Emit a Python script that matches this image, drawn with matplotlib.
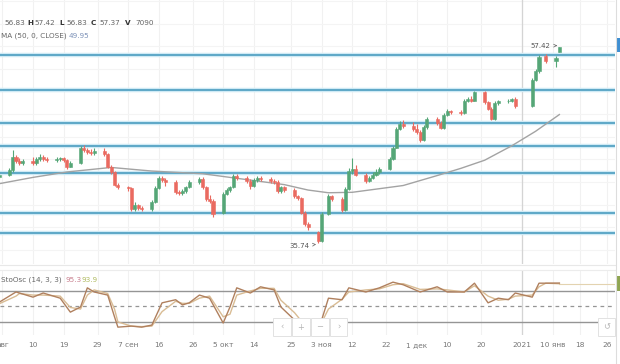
import matplotlib
matplotlib.use("Agg")
import matplotlib.pyplot as plt
import matplotlib.dates as mdates
import numpy as np
import pandas as pd
from matplotlib.patches import Rectangle
from matplotlib.lines import Line2D

plt.rcParams['font.family'] = ['DejaVu Sans']

# ---------------- data ----------------
holidays = ['2020-11-04', '2020-12-31', '2021-01-01', '2021-01-07']
start_date, end_date = '2020-07-31', '2021-01-12'

opens = [43.0,
         43.3, 43.8, 45.2, 44.8, 44.6,
         44.8, 44.6, 45.0, 45.3, 45.0,
         44.9, 45.0, 45.1, 44.9, 44.2,
         44.6, 46.3, 46.0, 45.8, 45.7,
         45.9, 45.6, 44.2, 43.6, 42.2,
         41.9, 41.8, 39.5, 39.9, 39.6,
         39.5, 40.3, 41.8, 42.9, 42.7,
         42.5, 41.4, 41.3, 41.5, 41.9,
         42.5, 42.8, 41.9, 40.6, 40.4,
         39.1, 41.2, 41.6, 41.9, 43.2,
         42.9, 42.6, 42.0, 42.7, 42.9,
         42.8, 42.6, 42.5, 41.5, 41.9,
         41.6, 40.9, 40.7, 39.1, 37.8,
         37.0, 36.0, 39.0, 40.9,
         40.6, 39.4, 41.7, 43.7, 43.9,
         43.3, 42.6, 42.9, 43.3, 43.6,
         43.9, 45.0, 46.3, 48.4, 48.9,
         48.7, 48.3, 48.0, 47.1, 48.6,
         49.5, 49.0, 48.5, 49.9, 50.3,
         50.2, 50.1, 51.5, 51.7, 51.5,
         52.4, 51.3, 50.6, 49.5, 51.2,
         51.4, 51.5, 51.7,
         50.9, 53.8, 54.8, 56.4,
         55.9, 56.83]
highs = [43.6,
         44.0, 46.0, 45.5, 45.1, 45.0,
         45.2, 45.3, 45.6, 45.5, 45.2,
         45.2, 45.3, 45.3, 45.0, 44.8,
         46.5, 46.6, 46.2, 46.1, 46.2,
         46.2, 45.7, 44.4, 43.7, 42.4,
         42.1, 41.9, 40.3, 40.1, 39.8,
         40.5, 42.0, 43.2, 43.1, 42.9,
         42.7, 41.6, 41.7, 42.1, 42.7,
         43.0, 43.0, 42.0, 41.0, 40.6,
         41.4, 41.8, 42.1, 43.4, 43.4,
         43.1, 42.8, 42.9, 43.1, 43.1,
         43.0, 42.8, 42.7, 42.1, 42.1,
         41.8, 41.1, 40.8, 39.3, 38.1,
         37.1, 39.2, 41.2, 41.1,
         40.8, 41.9, 44.0, 45.1, 44.4,
         43.5, 43.2, 43.6, 43.9, 44.2,
         45.2, 46.5, 48.6, 49.2, 49.3,
         49.1, 48.9, 48.2, 48.8, 49.7,
         49.7, 49.2, 50.1, 50.6, 50.5,
         50.4, 51.7, 51.9, 52.0, 52.6,
         52.5, 51.5, 50.8, 51.4, 51.6,
         51.7, 51.8, 51.9,
         54.0, 55.0, 56.5, 56.7,
         56.4, 57.42]
lows = [42.8,
        43.1, 43.6, 44.6, 44.4, 44.4,
        44.4, 44.4, 44.8, 44.8, 44.7,
        44.7, 44.8, 44.7, 43.9, 44.1,
        44.5, 45.8, 45.6, 45.5, 45.5,
        45.4, 44.0, 43.4, 42.0, 41.7,
        41.5, 39.3, 39.3, 39.4, 39.3,
        39.3, 40.2, 41.7, 42.5, 42.1,
        41.2, 41.1, 41.1, 41.3, 41.8,
        42.3, 41.7, 40.4, 40.2, 38.6,
        39.0, 41.0, 41.4, 41.8, 42.7,
        42.4, 41.7, 41.9, 42.5, 42.6,
        42.4, 42.3, 41.3, 41.3, 41.4,
        40.7, 40.5, 38.9, 37.6, 37.2,
        35.74, 35.9, 38.8, 40.4,
        39.2, 39.3, 41.6, 43.4, 43.1,
        42.4, 42.5, 42.8, 43.1, 43.4,
        43.8, 44.9, 46.2, 48.2, 48.5,
        48.1, 47.8, 46.9, 47.0, 48.4,
        48.8, 48.3, 48.4, 49.8, 50.0,
        49.9, 50.0, 51.3, 51.3, 51.4,
        51.1, 50.4, 49.3, 49.4, 51.0,
        51.2, 51.3, 50.7,
        50.8, 53.7, 54.6, 55.7,
        55.2, 56.83]
closes = [43.3,
          43.8, 45.2, 44.8, 44.6, 44.8,
          44.6, 45.0, 45.3, 45.0, 44.9,
          45.0, 45.1, 44.9, 44.2, 44.6,
          46.3, 46.0, 45.8, 45.7, 45.9,
          45.6, 44.2, 43.6, 42.2, 41.9,
          41.8, 39.5, 39.9, 39.6, 39.5,
          40.3, 41.8, 42.9, 42.7, 42.5,
          41.4, 41.3, 41.5, 41.9, 42.5,
          42.8, 41.9, 40.6, 40.4, 38.9,
          41.2, 41.6, 41.9, 43.2, 42.9,
          42.6, 42.0, 42.7, 42.9, 42.8,
          42.6, 42.5, 41.5, 41.9, 41.6,
          40.9, 40.7, 39.1, 37.8, 37.5,
          36.0, 39.0, 40.9, 40.6,
          39.4, 41.7, 43.7, 43.9, 43.3,
          42.6, 42.9, 43.3, 43.6, 43.9,
          45.0, 46.3, 48.4, 48.9, 48.7,
          48.3, 48.0, 47.1, 48.6, 49.5,
          49.0, 48.5, 49.9, 50.3, 50.2,
          50.1, 51.5, 51.7, 51.5, 52.4,
          51.3, 50.6, 49.5, 51.2, 51.4,
          51.5, 51.7, 50.9,
          53.8, 54.8, 56.3, 55.9,
          56.2, 57.37]

ma_dates = ['2020-07-31', '2020-08-10', '2020-08-20', '2020-09-02', '2020-09-14',
            '2020-09-29', '2020-10-09', '2020-10-23', '2020-10-30', '2020-11-05',
            '2020-11-12', '2020-11-27', '2020-12-07', '2020-12-14', '2020-12-21',
            '2020-12-29', '2021-01-05', '2021-01-12']
ma_values = [42.3, 43.0, 43.6, 44.1, 43.7,
             43.4, 42.9, 42.2, 41.6, 41.3,
             41.35, 42.1, 43.2, 44.0, 44.9,
             46.5, 48.1, 49.95]

sr_levels = [56.54, 52.66, 49.07, 46.47, 43.48, 39.09, 36.88]

osc_dates = ['2020-07-31', '2020-08-05', '2020-08-06', '2020-08-10', '2020-08-13',
             '2020-08-18', '2020-08-21', '2020-08-24', '2020-08-26', '2020-08-28',
             '2020-09-01', '2020-09-03', '2020-09-04', '2020-09-08', '2020-09-11',
             '2020-09-14', '2020-09-17', '2020-09-21', '2020-09-23', '2020-09-25',
             '2020-09-28', '2020-10-01', '2020-10-05', '2020-10-07', '2020-10-09',
             '2020-10-13', '2020-10-16', '2020-10-20', '2020-10-22', '2020-10-26',
             '2020-10-29', '2020-11-02', '2020-11-05', '2020-11-09', '2020-11-11',
             '2020-11-16', '2020-11-20', '2020-11-24', '2020-11-27', '2020-12-02',
             '2020-12-07', '2020-12-10', '2020-12-15', '2020-12-18', '2020-12-22',
             '2020-12-25', '2020-12-28', '2020-12-30', '2021-01-04', '2021-01-06',
             '2021-01-08', '2021-01-12']
stoch_k = [58, 78, 76, 68, 76,
           66, 39, 49, 86, 78,
           72, 30, 10, 12, 10,
           14, 57, 63, 53, 57,
           72, 66, 18, 49, 86,
           76, 88, 82, 49, 24,
           8, 3, 66, 63, 86,
           78, 86, 97, 92, 78,
           88, 78, 78, 95, 57,
           66, 63, 76, 68, 95,
           95, 95.3]
stoch_d = [55, 70, 75, 72, 72,
           70, 48, 45, 72, 82,
           75, 45, 20, 12, 11,
           12, 40, 60, 56, 56,
           66, 70, 30, 35, 72,
           80, 85, 85, 62, 38,
           14, 6, 45, 64, 78,
           82, 84, 92, 94, 83,
           84, 82, 78, 90, 70,
           62, 64, 70, 72, 88,
           95, 93.9]

tick_dates = ['2020-08-01', '2020-08-10', '2020-08-19', '2020-08-29', '2020-09-07',
              '2020-09-16', '2020-09-26', '2020-10-05', '2020-10-14', '2020-10-25',
              '2020-11-03', '2020-11-12', '2020-11-22', '2020-12-01', '2020-12-10',
              '2020-12-20', '2021-01-01', '2021-01-10', '2021-01-18', '2021-01-26']
tick_labels = ['авг', '10', '19', '29', '7 сен', '16', '26', '5 окт', '14', '25',
               '3 ноя', '12', '22', '1 дек', '10', '20', '2021', '10 янв', '18', '26']

# ---------------- layout ----------------
W, H = 620, 364
fig = plt.figure(figsize=(W / 100, H / 100), dpi=100)
fig.patch.set_facecolor('white')

def fx(px):
    return px / W

def fy(py):
    return 1 - py / H

ax = fig.add_axes([0, fy(264), fx(615), 264 / H])
osc = fig.add_axes([0, fy(335), fx(615), 65 / H])

dates = pd.bdate_range(start_date, end_date, freq='C', holidays=holidays)
xd = mdates.date2num(dates)
o = np.array(opens); h = np.array(highs); l = np.array(lows); c = np.array(closes)

ref = mdates.date2num(pd.Timestamp('2020-08-10'))
ppd = 3.396
xlim = (ref - 33 / ppd, ref + 582 / ppd)

up_col, dn_col = '#55a677', '#ea6a60'
cols = np.where(c >= o, up_col, dn_col)

tx = mdates.date2num(pd.to_datetime(tick_dates))
for a in (ax, osc):
    for t in tx:
        a.axvline(t, color='#f1f1f1', lw=0.8, zorder=0)
    a.axvline(mdates.date2num(pd.Timestamp('2021-01-01')), color='#d4d4d4', lw=0.9, zorder=1)

for p in np.arange(35, 62.6, 2.5):
    ax.axhline(p, color='#f4f4f4', lw=0.8, zorder=0)

# support / resistance lines
for lv in sr_levels:
    ax.axhline(lv, color='#cfeaf5', lw=3.2, zorder=1)
    ax.axhline(lv, color='#4a9cc0', lw=1.2, zorder=2)

# MA
ax.plot(mdates.date2num(pd.to_datetime(ma_dates)), ma_values, color='#a3a3a3', lw=1.0, zorder=3)

# candles
ax.vlines(xd, l, h, colors=cols, lw=0.8, zorder=4)
ax.bar(xd, np.maximum(np.abs(c - o), 0.08), bottom=np.minimum(o, c), width=0.9,
       color=cols, edgecolor=cols, linewidth=0.4, zorder=5)

ax.set_xlim(*xlim)
ax.set_ylim(33.42, 62.62)
ax.axis('off')

# annotations for extremes
i_hi = int(np.argmax(h)); i_lo = int(np.argmin(l))
ax.annotate(f'{h[i_hi]:.2f}', xy=(xd[i_hi] - 0.6, h[i_hi] + 0.15), xytext=(-5, 0),
            textcoords='offset points', ha='right', va='center', fontsize=5, color='#555',
            arrowprops=dict(arrowstyle='->', color='#777', lw=0.6))
ax.annotate(f'{l[i_lo]:.2f}', xy=(xd[i_lo] - 0.6, l[i_lo] - 0.15), xytext=(-5, -1),
            textcoords='offset points', ha='right', va='center', fontsize=5, color='#555',
            arrowprops=dict(arrowstyle='->', color='#777', lw=0.6))

# oscillator
od = mdates.date2num(pd.to_datetime(osc_dates))
osc.axhline(80, color='#959595', lw=1.0, zorder=1)
osc.axhline(20, color='#959595', lw=1.0, zorder=1)
osc.axhline(50, color='#959595', lw=0.9, ls=(0, (3, 3)), zorder=1)
osc.plot(od, stoch_d, color='#d9bc94', lw=1.0, zorder=3)
osc.plot(od, stoch_k, color='#b0805e', lw=1.0, zorder=4)
osc.plot([od[-1], xlim[1]], [stoch_d[-1], stoch_d[-1]], color='#e3d3b0', lw=0.8, zorder=2)
osc.set_xlim(*xlim)
osc.set_ylim(-5.2, 120.5)
for s in osc.spines.values():
    s.set_visible(False)
osc.set_yticks([])
osc.set_xticks(tx)
osc.set_xticklabels(tick_labels, fontsize=5.3, color='#777')
osc.tick_params(axis='x', length=0, pad=5)

# separators
fig.add_artist(Line2D([0, fx(615)], [fy(265), fy(265)], color='#e8e8e8', lw=0.8))
fig.add_artist(Line2D([0, fx(615)], [fy(270), fy(270)], color='#ececec', lw=0.8))
fig.add_artist(Line2D([fx(615.5), fx(615.5)], [fy(364), fy(0)], color='#dddddd', lw=0.8))
fig.add_artist(Rectangle((fx(616), fy(52)), fx(4), 14 / H, color='#3f8fd2', lw=0))
fig.add_artist(Rectangle((fx(616), fy(291)), fx(4), 15 / H, color='#8fa552', lw=0))

# navigation buttons
def button(x0, x1, y0, y1, txt):
    fig.add_artist(Rectangle((fx(x0), fy(y1)), fx(x1 - x0), (y1 - y0) / H,
                             facecolor='white', edgecolor='#e2e2e2', lw=0.7))
    fig.text(fx((x0 + x1) / 2), fy((y0 + y1) / 2), txt, ha='center', va='center',
             fontsize=6, color='#b5b5b5')

button(273, 291, 318, 336, '‹')
button(292, 310, 318, 336, '+')
button(311, 329, 318, 336, '−')
button(330, 347, 318, 336, '›')
button(598, 615, 318, 336, '↺')

# header texts
hdr_y = fy(23)
fs = 5.2
parts = [(4, '56.83', '#666', 'normal'), (27, 'H', '#333', 'bold'), (34, '57.42', '#666', 'normal'),
         (59, 'L', '#333', 'bold'), (66, '56.83', '#666', 'normal'), (91, 'C', '#333', 'bold'),
         (99, '57.37', '#666', 'normal'), (125, 'V', '#333', 'bold'), (135, '7090', '#666', 'normal')]
for px, t, col, w in parts:
    fig.text(fx(px), hdr_y, t, fontsize=fs, color=col, weight=w, va='center', ha='left')

fig.text(fx(1), fy(36), 'MA (50, 0, CLOSE)', fontsize=fs, color='#666', va='center', ha='left')
fig.text(fx(69), fy(36), f'{ma_values[-1]:.2f}', fontsize=fs, color='#7d92b8', va='center', ha='left')

fig.text(fx(1), fy(280), 'StoOsc (14, 3, 3)', fontsize=fs, color='#666', va='center', ha='left')
fig.text(fx(66), fy(280), f'{stoch_k[-1]:.1f}', fontsize=fs, color='#c9808f', va='center', ha='left')
fig.text(fx(82), fy(280), f'{stoch_d[-1]:.1f}', fontsize=fs, color='#b0bb62', va='center', ha='left')

fig.savefig('out.png', dpi=100, facecolor='white')
